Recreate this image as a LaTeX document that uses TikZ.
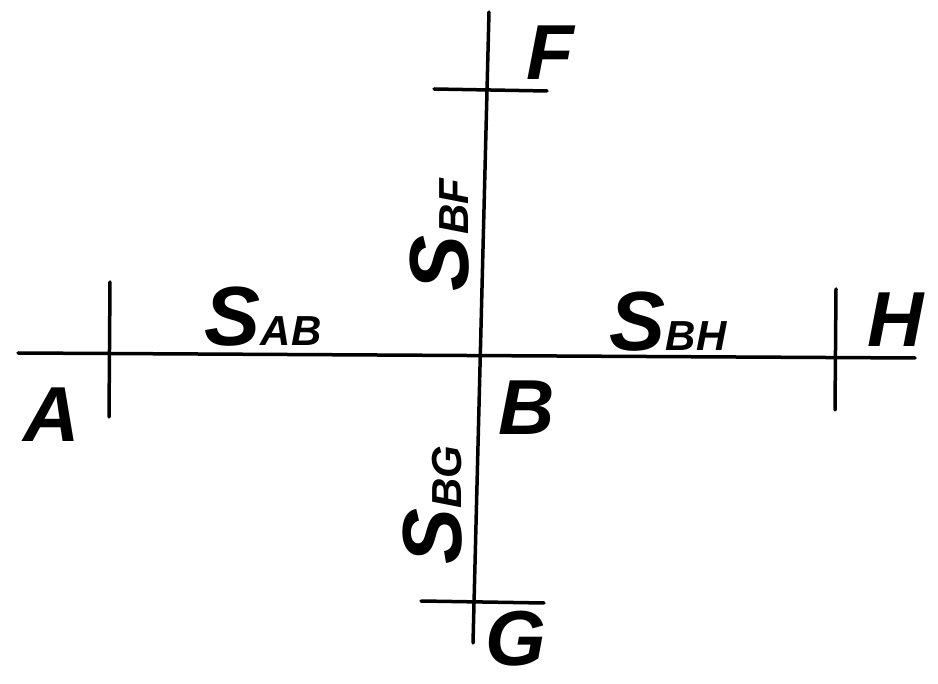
\documentclass[tikz,border=0pt]{standalone}
\usepackage{fontspec}
\setmainfont{Liberation Sans}
\begin{document}
\begin{tikzpicture}[x=1pt,y=-1pt,
  ln/.style={line width=3.5pt,line cap=round},
  tk/.style={line width=3.5pt,line cap=round},
  big/.style={font=\fontsize{78}{80}\selectfont\itshape\bfseries,inner sep=0pt},
  lab/.style={font=\fontsize{84}{86}\selectfont\itshape\bfseries,inner sep=0pt}]
\useasboundingbox (0,0) rectangle (938,684);
% main line ends
\coordinate (L) at (18,353);
\coordinate (R) at (915,358);
\coordinate (T) at (489,12);
\coordinate (D) at (473,643);
\draw[ln] (L) -- (R);
\draw[ln] (T) -- (D);
% ticks
\coordinate (a1) at (110,282); \coordinate (a2) at (109,417);
\coordinate (h1) at (836,289); \coordinate (h2) at (835,410);
\coordinate (f1) at (434,89); \coordinate (f2) at (547,91);
\coordinate (g1) at (421,601); \coordinate (g2) at (544,603);
\draw[tk] (a1) -- (a2);
\draw[tk] (h1) -- (h2);
\draw[tk] (f1) -- (f2);
\draw[tk] (g1) -- (g2);
% point labels
\node[big] (A) at (52,415) {A};
\node[big] (B) at (527,408) {B};
\node[big] (F) at (550,53) {F};
\node[big] (G) at (516,639) {G};
\node[big] (H) at (896,320) {H};
% distance labels
\node[lab] (sab) at (263,317) {S\fontsize{42}{44}\selectfont AB};
\node[lab] (sbh) at (668,322) {S\fontsize{42}{44}\selectfont BH};
\node[lab,rotate=90] (sbf) at (440,235) {S\fontsize{42}{44}\selectfont BF};
\node[lab,rotate=90] (sbg) at (433,505) {S\fontsize{42}{44}\selectfont BG};
\end{tikzpicture}
\end{document}
